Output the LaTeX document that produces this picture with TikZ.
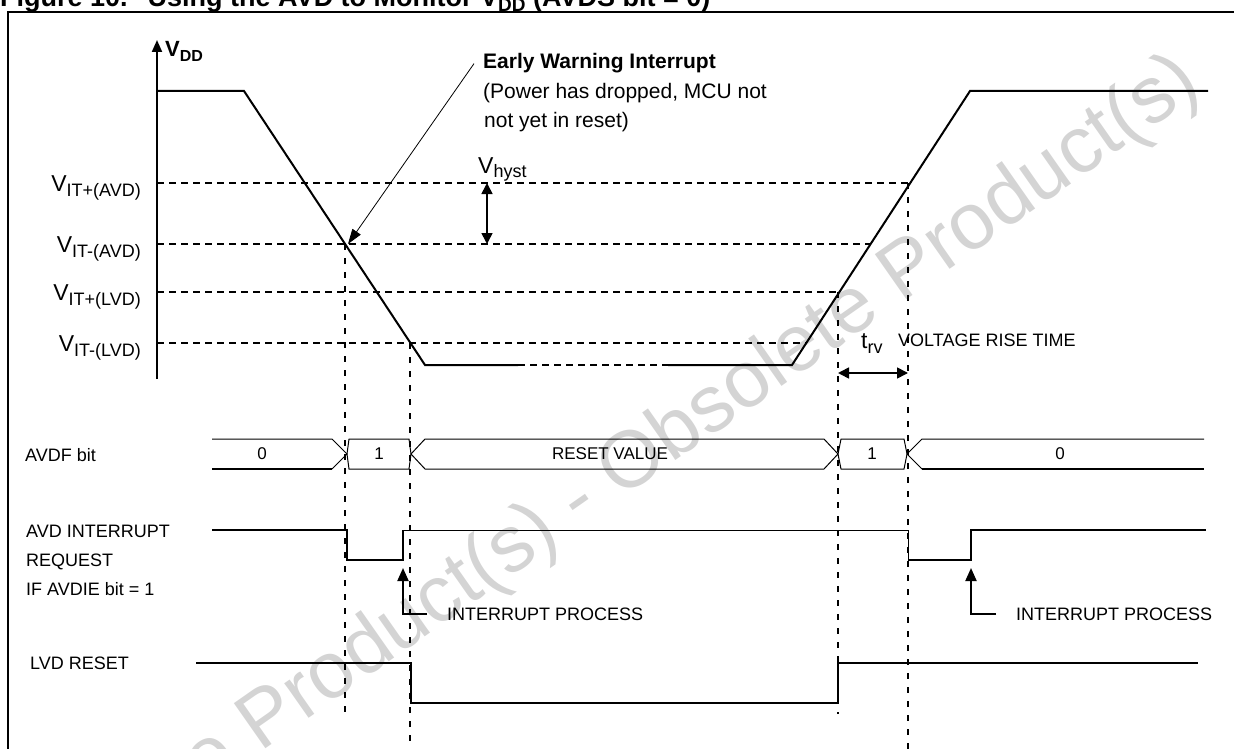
\documentclass[tikz,border=0pt]{standalone}
\usepackage{fontspec}
\setmainfont{Liberation Sans}
\usetikzlibrary{arrows.meta}
\newcommand{\vsub}[3][18]{#2\raisebox{-5pt}{\fontsize{#1}{#1}\selectfont #3}}
\begin{document}
\begin{tikzpicture}[x=1pt, y=-1pt, line join=miter,
    wave/.style={line width=2pt},
    bus/.style={line width=1pt},
    guide/.style={line width=1.3pt, dash pattern=on 7pt off 5pt},
    vguide/.style={line width=1.3pt, dash pattern=on 6pt off 8pt},
    tip/.style={-{Triangle[length=13pt,width=11pt]}},
    dim/.style={line width=1.6pt, {Triangle[length=11pt,width=11pt]}-{Triangle[length=11pt,width=11pt]}},
    lbl/.style={font=\fontsize{18}{18}\selectfont, inner sep=0pt, anchor=base west},
    bit/.style={font=\fontsize{17}{17}\selectfont, inner sep=0pt},
    lvl/.style={font=\fontsize{23}{23}\selectfont, inner sep=0pt, anchor=base east}]
  \useasboundingbox (0,0) rectangle (1234,749);
  \def\ya{183} \def\yb{244} \def\yc{292} \def\yd{343}
  \def\yhi{91} \def\ylo{365}
  \def\xa{345} \def\xb{410} \def\xc{838} \def\xd{908}

  % watermark
  \node[text=black!17, rotate=35, font=\fontsize{80}{80}\selectfont, inner sep=0pt] (wmark) at (580,503) {Obsolete Product(s) - Obsolete Product(s)};

  \node[anchor=base west, inner sep=0pt, font=\bfseries\fontsize{27}{27}\selectfont] (title) at (0,7) {Figure 10.\hspace{20pt}Using the AVD to Monitor \vsub[19]{V}{DD} (AVDS bit = 0)};
  \draw[line width=2pt] (8,770) -- (8,12) -- (1250,12);

  % supply voltage
  \draw[line width=2pt, -{Triangle[length=12pt,width=10pt]}] (157,379) -- (157,40);
  \node[anchor=base west, inner sep=0pt, font=\bfseries\fontsize{22}{22}\selectfont] (vdd) at (165,57) {\vsub[16]{V}{DD}};
  \node[lvl] (vitpa) at (141,\ya+8) {\vsub{V}{IT+(AVD)}};
  \node[lvl] (vitma) at (141,\yb+8) {\vsub{V}{IT-(AVD)}};
  \node[lvl] (vitpl) at (141,\yc+8) {\vsub{V}{IT+(LVD)}};
  \node[lvl] (vitml) at (141,\yd+8) {\vsub{V}{IT-(LVD)}};
  \draw[guide] (157,\ya) -- (\xd+1,\ya);
  \draw[guide] (157,\yb) -- (870,\yb);
  \draw[guide] (157,\yc) -- (\xc+1,\yc);
  \draw[guide] (157,\yd) -- (806,\yd);
  \draw[wave] (157,\yhi) -- (244,\yhi) -- (425,\ylo) -- (518,\ylo);
  \draw[guide] (518,\ylo) -- (668,\ylo);
  \draw[wave] (668,\ylo) -- (792,\ylo) -- (970,\yhi) -- (1208,\yhi);

  \draw[vguide] (\xa,\yb) -- (\xa,714);
  \draw[vguide] (\xb,\yd) -- (\xb,749);
  \draw[vguide] (\xc,\yc) -- (\xc,714);
  \draw[vguide] (\xd,\ya) -- (\xd,749);

  \node[anchor=base west, inner sep=0pt, font=\bfseries\fontsize{21}{21}\selectfont] (ew1) at (483,69) {Early Warning Interrupt};
  \node[anchor=base west, inner sep=0pt, font=\fontsize{21}{21}\selectfont] (ew2) at (483,99) {(Power has dropped, MCU not};
  \node[anchor=base west, inner sep=0pt, font=\fontsize{21}{21}\selectfont] (ew3) at (484,128) {not yet in reset)};
  \coordinate (ewtip) at (\xa+3,\yb);
  \draw[line width=0.8pt, -{Triangle[length=15pt,width=10pt]}] ([xshift=-9pt]ew1.west) -- (ewtip);

  \node[lvl, anchor=base west] (vhyst) at (478,173) {\vsub{V}{hyst}};
  \draw[dim] (487,\ya) -- (487,\yb);
  \node[lvl, anchor=base west] (trv) at (861,348) {\vsub{t}{rv}};
  \node[lbl] (vrise) at (898,346) {VOLTAGE RISE TIME};
  \draw[dim] (\xc,373) -- (\xd,373);

  % AVDF bit
  \node[lbl] (avdf) at (25,461) {AVDF bit};
  \draw[bus] (212,439) -- (332,439) -- (347,454) -- (332,469);
  \draw[wave] (332,469) -- (212,469);
  \draw[bus] (347,454) -- (349,439) -- (409,439) -- (411,454) -- (409,469) -- (349,469) -- cycle;
  \draw[bus] (411,454) -- (425,439) -- (824,439) -- (838,454) -- (824,469) -- (425,469) -- cycle;
  \draw[bus] (838,454) -- (841,439) -- (904,439) -- (907,454) -- (904,469) -- (841,469) -- cycle;
  \draw[bus] (1204,439) -- (922,439) -- (907,454) -- (922,469);
  \draw[wave] (922,469) -- (1204,469);
  \node[bit] (b0a) at (262,454) {0};
  \node[bit] (b1a) at (379,454) {1};
  \node[bit] (brst) at (610,454) {RESET VALUE};
  \node[bit] (b1b) at (872,454) {1};
  \node[bit] (b0b) at (1060,454) {0};

  % AVD interrupt request
  \node[lbl] (avdi) at (26,537) {AVD INTERRUPT};
  \node[lbl] (avdr) at (26,566) {REQUEST};
  \node[lbl] (avde) at (26,595) {IF AVDIE bit = 1};
  \draw[wave] (212,530) -- (347,530) -- (347,560) -- (403,560) -- (403,530);
  \draw[bus] (403,530) -- (908,530) -- (908,560);
  \draw[wave] (908,560) -- (971,560) -- (971,530) -- (1206,530);
  \node[lbl] (ipa) at (447,620) {INTERRUPT PROCESS};
  \node[lbl] (ipb) at (1016,620) {INTERRUPT PROCESS};
  \coordinate (tipa) at (403,568);
  \coordinate (tipb) at (971,568);
  \draw[line width=2pt, tip] ([xshift=-20pt]ipa.west) -| (tipa);
  \draw[line width=2pt, tip] ([xshift=-20pt]ipb.west) -| (tipb);

  % LVD reset
  \node[lbl] (lvdr) at (30,669) {LVD RESET};
  \draw[wave] (196,663) -- (411,663) -- (411,703) -- (838,703) -- (838,663) -- (1198,663);
\end{tikzpicture}
\end{document}
